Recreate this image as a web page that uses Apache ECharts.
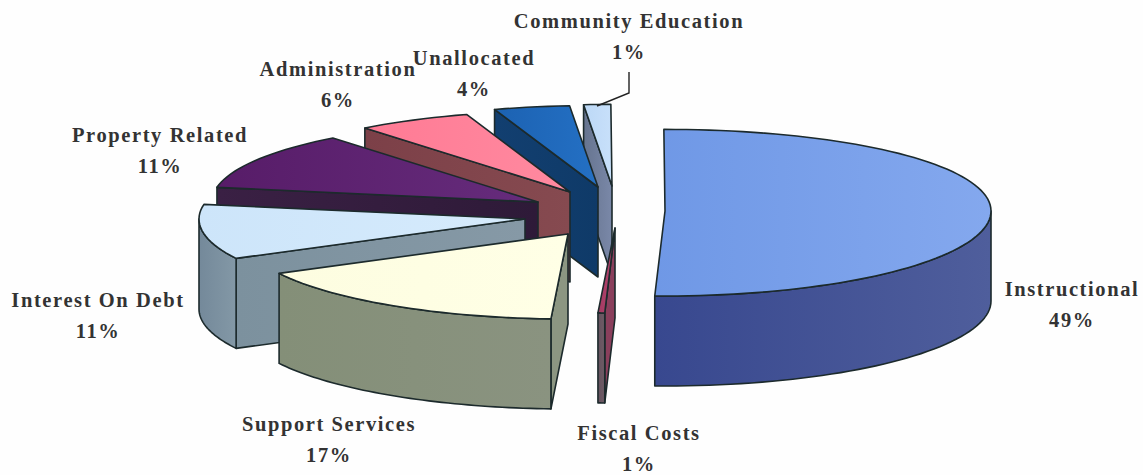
<!DOCTYPE html>
<html><head><meta charset="utf-8">
<style>
html,body{margin:0;padding:0;background:#fefefe}
#c{width:1143px;height:475px}
#c text{letter-spacing:1.6px}
</style>
<script src="https://cdn.jsdelivr.net/npm/echarts@6/dist/echarts.min.js"></script>
</head><body><div id="c"></div>
<script>
// data, in the clockwise order of the pie
const categories = ['Instructional','Fiscal Costs','Support Services','Interest On Debt','Property Related','Administration','Unallocated','Community Education'];
const percents   = [49,1,17,11,11,6,4,1];

// layout: the source's 3-D view distorts sweeps a little; degrees added to each sweep
const sweepAdjust = [5.6,-2.4,-1.8,-2,1.4,-1.1,-0.9,1.2];
const startAngle = -0.2;
const explodeX = [65,15,-32,-75,-62,-30,-2,12];
const explodeY = [0,17,23,8,-9,-19,-24,-25];
const drawOrder = [7,6,5,4,3,2,1,0];
const labelX = [1072,639,329,98,160,338,474,629];
const labelY = [304,448,439,315,150,84,73,36];
const centre = [600,211], radiusX = 326, radiusY = 85, depth = 90;

// styles
const topColors  = [['#6f98e6','#84a8ee'],['#a33a62','#b5456e'],['#fdfde0','#ffffe6'],['#cde5fa','#d6ebfc'],['#571c68','#662c7c'],['#ff7a94','#ff8aa0'],['#1c62b2','#2470c4'],['#bcd8f6','#c8e0fa']];
const rimColors  = [['#38488f','#4f5e9c'],['#66525e','#6e5c66'],['#848f78','#8a9380'],['#74899a','#8398a6'],['#3a2044','#3a2044'],['#7a3c46','#7a3c46'],['#123f70','#123f70'],['#66748f','#66748f']];
const cutColors  = [['#36468e','#36468e'],['#8a3f5c','#8a3f5c'],['#8c9682','#8c9682'],['#7c919e','#8699a6'],['#3a2044','#2e1a38'],['#7c4048','#864a50'],['#123f70','#0f3a68'],['#66748f','#7a88a8']];
const edgeColor = '#1c2a2c';

const toRad = d => d * Math.PI / 180;
const starts = []; let running = startAngle;
percents.forEach((p, i) => { const sweep = p * 3.6 + sweepAdjust[i]; starts.push([running, running + sweep]); running += sweep; });

function rim(ax, ay, deg) {
  const c = Math.cos(toRad(deg)), s = Math.sin(toRad(deg));
  const squeeze = c > 0 ? 1 - 0.04 * c : 1;
  return [ax + radiusX * s, ay - radiusY * c * squeeze];
}
function grad(pair) {
  return new echarts.graphic.LinearGradient(0, 0, 1, 0, [{offset:0,color:pair[0]},{offset:1,color:pair[1]}]);
}
function poly(points, pair, z2) {
  return {type:'polygon', shape:{points}, z2,
    style:{fill:grad(pair), stroke:edgeColor, lineWidth:1.6, lineJoin:'round'}};
}
function renderSlice(params, api) {
  const i = api.value(0), layer = params.dataIndex * 10;
  const [a, b] = starts[i];
  const ax = centre[0] + explodeX[i], ay = centre[1] + explodeY[i];
  const children = [];
  // start-edge cut face
  if (a > 180 && a < 360) {
    const o = rim(ax, ay, a);
    children.push(poly([o, [ax, ay], [ax, ay + depth], [o[0], o[1] + depth]], cutColors[i], layer));
  }
  // outer wall
  const w0 = Math.max(a, 90), w1 = Math.min(b, 270);
  if (w1 > w0) {
    const upper = [], lower = [];
    for (let d = w0; d <= w1 + 1e-6; d += Math.max((w1 - w0) / 48, 0.2)) {
      const q = rim(ax, ay, d); upper.push(q); lower.unshift([q[0], q[1] + depth]);
    }
    children.push(poly(upper.concat(lower), rimColors[i], layer + 1));
  }
  // top face
  const top = [[ax, ay]];
  const steps = Math.max(4, Math.round((b - a) / 2));
  for (let k = 0; k <= steps; k++) top.push(rim(ax, ay, a + (b - a) * k / steps));
  children.push(poly(top, topColors[i], layer + 2));
  return {type:'group', children};
}
function renderLabel(params, api) {
  const i = api.value(0);
  return {type:'text', z2:1000, style:{
    text: categories[i] + '\n' + percents[i] + '%',
    x: labelX[i], y: labelY[i], align:'center', verticalAlign:'middle',
    font:'bold 20.5px "Liberation Serif"', lineHeight:31, fill:'#333333'}};
}
const chart = echarts.init(document.getElementById('c'), null, {renderer:'svg', width:1143, height:475});
chart.setOption({
  animation:false,
  backgroundColor:'#fefefe',
  graphic:[{type:'polyline', z:5, shape:{points:[[629,72],[629,93],[597,106]]}, style:{stroke:'#222',lineWidth:1.4,fill:null}}],
  series:[
    {type:'custom', coordinateSystem:'none', silent:true, data:drawOrder.map(i=>[i,percents[i]]), renderItem:renderSlice},
    {type:'custom', coordinateSystem:'none', silent:true, data:categories.map((c,i)=>[i,percents[i]]), renderItem:renderLabel}
  ]
});
</script></body></html>
